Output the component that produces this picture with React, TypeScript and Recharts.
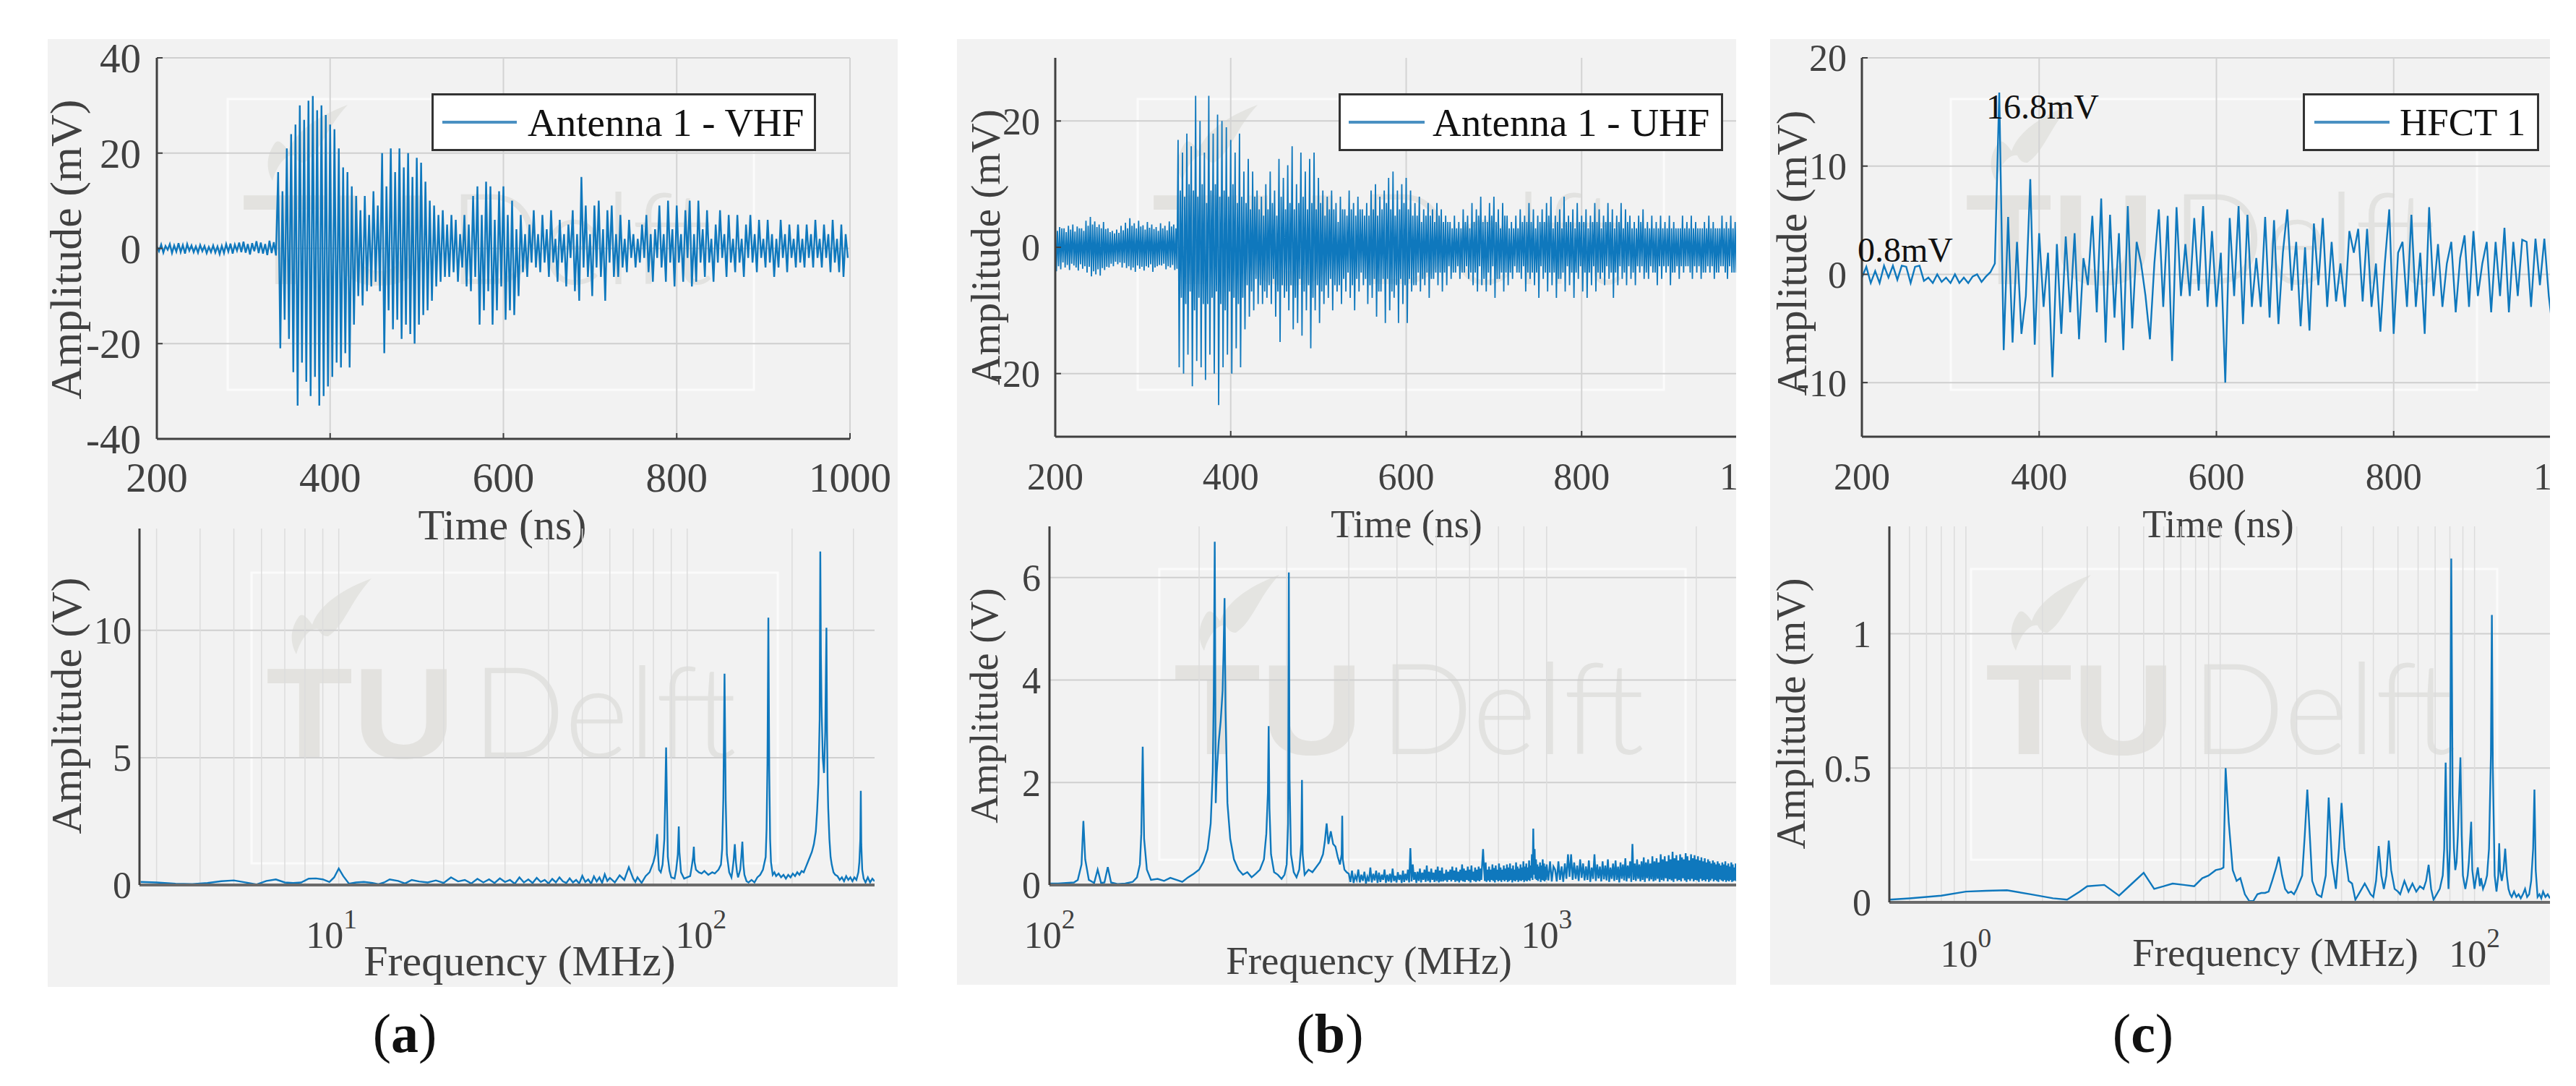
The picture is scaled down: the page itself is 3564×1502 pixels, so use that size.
import React from 'react';
import { LineChart, Line, XAxis, YAxis, CartesianGrid, Legend } from 'recharts';

const SERIF = '"Liberation Serif", "Times New Roman", serif';
const BLUE = '#0f78bd';
const INK = '#404040';

/* ---------- time-domain samples, mV ---------- */
const sampleStepA = 2.5;
const ampTimeA = [
  0.4,-0.6,0.8,-0.9,0.5,-0.3,0.9,-1.0,0.6,-0.7,1.1,-0.8,0.7,-1.1,0.9,-0.5,
  0.6,-0.8,0.4,-0.9,0.7,-0.6,0.5,-1.0,0.3,-0.8,0.6,-0.9,0.4,-1.2,0.5,-1.0,
  0.9,-0.7,1.0,-1.1,0.8,-0.5,1.2,-0.8,1.4,-0.9,0.9,-1.3,1.1,-0.6,1.5,-1.0,
  1.2,-1.1,0.9,-1.4,1.6,-1.0,1.3,-1.5,
  16,-21,12,-15,21,-19,24,-26,26,-33,30,-24,27,-28,31,-31,32,-27,29,-33,
  30,-31,28,-29,26,-27,25,-24,21,-25,17,-22,16,-25,13,-16,11,-10,8,-12,
  11,-9,7,-8,12,-7,9,-9,20,-22,13,-13,21,-17,16,-15,21,-19,17,-16,
  20,-18,15,-20,19,-16,18,-14,14,-13,10,-11,9,-8,7,-7,8,-6,5,-6,
  7,-5,6,-7,3,-4,7,-8,5,-9,11,-6,13,-16,7,-13,14,-9,13,-16,
  6,-13,12,-8,13,-15,7,-13,10,-14,4,-10,7,-5,3,-6,5,-3,8,-4,
  3,-5,7,-3,4,-6,8,-3,2,-7,6,-3,3,-8,5,-2,8,-9,3,-11,
  15,-4,9,-6,3,-10,9,-4,10,-6,4,-11,8,-3,9,-6,3,-6,7,-4,
  2,-5,6,-2,3,-4,2,-3,5,-2,7,-5,3,-7,4,-2,9,-4,3,-7,
  10,-3,4,-8,9,-3,3,-7,8,-2,10,-8,3,-7,10,-3,4,-6,8,-3,
  2,-7,5,-3,8,-2,3,-6,7,-3,2,-5,7,-3,2,-6,5,-2,7,-3,
  3,-5,6,-2,2,-4,6,-3,3,-6,2,-4,6,-2,3,-5,5,-2,2,-4,
  5,-3,2,-4,5,-2,3,-4,6,-2,2,-4,5,-2,3,-5,6,-3,2,-5,5,-6,3,-2,
];

const sampleStepB = 1.25;
const ampTimeB = [
  3.5,-3.8,2.6,-3,3.2,-3.5,3,-2.4,3,-3.2,2.4,-2.8,3.4,-3.6,2.8,-2.6,
  3.6,-2.9,2.5,-3.2,3.3,-3.7,3,-2.7,3,-3.4,2.6,-3,4.2,-4,3.4,-3.1,
  4.8,-4.6,3.6,-3.8,4.1,-4.3,3.2,-3.5,3.6,-4.5,3,-3.3,4,-3.6,2.9,-3.1,
  3,-3.2,2.4,-2.6,2.6,-3,2.2,-2.3,2.8,-2.7,2.3,-2.4,3.4,-3.2,2.7,-2.5,
  3.9,-3.3,3,-3,4.6,-3.6,3.4,-3.2,3.8,-3.9,3,-2.9,4.2,-3.4,3.3,-3.1,
  3.5,-3.7,2.8,-3,4,-3.2,3.1,-2.7,3.6,-3.9,2.9,-3.2,3.2,-3,2.6,-2.8,
  3.8,-2.9,3,-2.6,3.4,-3.5,2.7,-3,4.1,-3.2,3.3,-2.8,3.6,-3.6,3,-3.4,
  17,-19,9,-8,15,-20,8,-9,18,-17,10,-7,16,-22,9,-10,24,-18,8,-8,
  20,-19,10,-9,15,-21,7,-9,24,-17,9,-8,18,-20,10,-7,21,-25,8,-9,
  20,-19,9,-10,19,-17,8,-7,17,-20,10,-8,15,-16,7,-9,18,-19,8,-8,
  12,-13,7,-6,14,-11,6,-7,12,-10,8,-5,9,-9,6,-6,8,-9,5,-7,
  10,-8,6,-6,12,-9,7,-5,9,-11,5,-7,14,-15,8,-6,11,-8,6,-7,
  13,-10,7,-6,16,-13,6,-8,10,-12,7,-5,15,-14,8,-7,12,-10,6,-6,
  14,-16,7,-8,15,-10,6,-6,11,-12,7,-7,9,-9,5,-6,8,-8,6,-5,
  9,-10,6,-6,7,-7,4,-6,8,-9,6,-5,6,-7,5,-4,9,-8,6,-6,
  7,-10,5,-5,8,-7,6,-4,6,-6,5,-5,7,-9,5,-6,9,-8,6,-5,
  10,-11,5,-7,8,-7,6,-5,9,-12,7,-5,11,-10,6,-7,12,-8,5,-6,
  9,-12,6,-5,10,-9,7,-6,11,-12,6,-5,9,-7,5,-6,7,-6,5,-4,
  8,-7,4,-5,6,-6,5,-4,7,-8,5,-5,6,-5,4,-4,7,-6,5,-4,
  6,-7,4,-4,5,-6,4,-3,4,-5,3,-4,5,-4,3,-3,4,-5,3,-4,
  6,-4,4,-3,5,-5,3,-4,7,-6,4,-4,6,-7,5,-3,8,-6,4,-5,
  5,-7,4,-4,7,-6,5,-3,8,-8,4,-5,6,-5,3,-4,7,-7,5,-4,
  5,-6,3,-4,4,-5,3,-3,5,-4,3,-4,6,-5,4,-3,5,-7,4,-4,
  7,-5,4,-4,6,-6,3,-4,5,-8,4,-3,6,-5,4,-4,7,-7,5,-4,
  8,-6,3,-4,5,-8,4,-5,6,-5,3,-4,8,-7,4,-3,5,-6,4,-4,
  6,-8,3,-4,7,-5,4,-3,5,-7,4,-4,6,-8,3,-4,5,-6,4,-3,
  7,-7,4,-4,6,-5,3,-4,5,-6,4,-3,7,-5,4,-4,6,-8,3,-4,
  5,-6,4,-3,7,-5,3,-4,6,-6,4,-3,5,-5,3,-4,4,-6,3,-3,
  5,-4,4,-3,6,-5,3,-4,4,-5,3,-3,5,-4,3,-4,4,-6,3,-3,
  5,-5,3,-3,4,-4,3,-3,5,-6,3,-4,4,-4,3,-3,3,-5,3,-3,
  5,-4,3,-3,4,-3,3,-4,5,-5,3,-3,4,-4,3,-3,3,-5,3,-4,
  4,-4,3,-3,5,-4,3,-3,4,-5,3,-4,3,-4,3,-3,5,-3,3,-4,
  4,-5,3,-3,5,-4,3,-4,4,-4,3,-3,5,-5,3,-4,
];

const sampleStepC = 5;
const ampTimeC = [
  -.3,.7,-.8,.3,-.8,.8,-.3,.8,-.5,.8,.7,-.8,.7,.8,-.6,-.3,-.8,0,-.7,-.3,
  -.8,0,-.8,-.3,-.8,-.2,0,-.7,-.2,.2,1,
  16.8,-7,5.3,-6.3,3,-5.5,-2,8.8,-6.5,3.8,-3,2,-9.5,2.8,-5.5,3.5,-3.5,3.8,-6,1.5,
  -1,5.4,-3.5,7,-6.3,5.5,-4,3.8,-7,6.3,-5,3,1,-2,-6,1,6,-3,5.4,-8,
  6.2,-2,2.8,-2,5.2,-1.5,6.3,-3,4,-3,2,-10,5.2,-2,6.3,-4.6,5.5,-3,1.5,-3,
  5.3,-4,5,-4.6,2,6,-1.5,3,-4.8,2.5,-5.2,4.7,-1,5.2,-3,3,-2.5,1,-3,4,
  2,4.2,-2.5,4.2,-3,1,-5.3,1,6,-5.5,2,3,-3,5.5,-3,2,-5.5,6.2,-2,2.8,
  -3,1,3,-3.5,1.5,3.6,-3,4,-2,1,3,-3.5,3,-2,4.3,-3.5,3,-2,3.2,3,
  -3,3.3,-1,3.3,-2,-5.5,
];

/* ---------- spectra ---------- */
const freqSpecA = [
  2.7,3,3.4,3.8,4.2,4.6,5,5.5,5.8,6.2,
  6.6,7,7.4,7.8,8.2,8.6,9,9.4,9.7,10,
  10.3,10.7,11.2,11.8,12.5,13,13.5,14,14.8,15.5,
  16.2,17,18,19,20,21,22,23,24,25,
  26,27,28,29,30,31,32,33,34,35,
  36,37,38,39,40,41,42,43,44,45,
  46,47,48,49,50,51,52,53,54,55,
  56,57,58,59,60,62,64,66,68,70,
  71,72,74,76,78,80,81,82,82.5,83,
  84,85,86,86.5,87,87.5,88,89,90,92,
  93,94,94.6,95,96,98,100,102,103,104,
  104.5,105,106,108,110,112,115,118,120,123,
  125,126,127,128,129,130,132,134,135,136,
  137,138,139,140,142,143,144,145,146,148,
  150,153,156,159,162,165,168,169,170,171,
  172,173,174,176,178,180,183,186,189,192,
  195,198,201,204,207,210,213,216,219,222,
  225,228,231,234,236,238,240,241,242,243,
  245,247,249,250,251,252,253,254,256,258,
  260,263,266,270,274,278,282,286,290,294,
  298,302,306,310,312,314,315,316,318,321,
  325,330,335,340,345,
];
const ampSpecA = [
  .12,.1,.05,.04,.08,.15,.18,.08,.02,.16,
  .22,.1,.08,.1,.25,.26,.22,.12,.3,.65,
  .35,.05,.1,.12,.08,.03,.1,.22,.16,.06,
  .2,.14,.1,.18,.08,.3,.14,.2,.06,.24,
  .1,.22,.08,.26,.12,.2,.05,.3,.1,.22,
  .08,.28,.12,.2,.06,.24,.1,.3,.14,.08,
  .26,.1,.2,.06,.36,.12,.22,.05,.34,.14,
  .3,.08,.42,.16,.28,.1,.38,.2,.7,.25,
  .12,.3,.08,.35,.5,.9,1.2,2,1.2,.6,
  .5,.8,1.8,3.4,5.4,3.2,1.1,.55,.3,.25,
  .6,1.2,2.3,1.3,.5,.25,.3,.35,.7,1.1,
  1.5,.9,.6,.5,.45,.55,.4,.5,.45,.6,
  .8,1.4,3.4,8.3,3.3,1.2,.5,.3,.6,1,
  1.6,.9,.5,.3,.6,1.1,1.7,.8,.4,.15,
  .1,.2,.1,.3,.4,.6,1.1,2.2,4.8,10.5,
  4.5,1.8,.9,.4,.5,.35,.45,.3,.4,.25,
  .4,.3,.45,.35,.5,.4,.55,.5,.7,.9,
  1.1,1.3,1.6,2.1,2.9,4,6.5,13.1,9,7,
  5,4.4,6,8,10.1,6,4,3,1.8,1.1,
  .8,.5,.4,.35,.2,.3,.15,.35,.2,.3,
  .15,.3,.2,.5,.9,1.8,3.7,1.6,.6,.25,
  .1,.3,.1,.25,.15,
];

const freqSpecB = [
  100,104,108,112,114,116,117,118,120,123,
  125,127,129,131,133,137,142,147,150,152,
  153,154,155,157,160,165,170,175,180,185,
  190,195,200,204,208,211,213,214,215,216,
  217,219,221,223,224,225,226,228,231,235,
  240,245,250,255,260,265,270,273,275,276,
  277,279,283,288,293,297,300,302,303,304,
  306,310,314,318,321,322,323,326,332,338,
  344,350,355,358,361,364,368,372,376,380,
  384,387,388,389,392,396,
];
const ampSpecB = [
  .03,.03,.04,.05,.1,.4,1.25,.5,.1,.04,
  .3,.04,.05,.35,.05,.02,.03,.06,.15,.4,
  1,2.7,.9,.3,.1,.12,.08,.14,.1,.06,
  .15,.22,.3,.45,.7,1.2,2.2,3.7,6.7,1.6,
  2.2,2.8,3.2,3.8,4.6,5.6,3.4,1.6,.9,.5,
  .3,.2,.25,.15,.22,.3,.5,1,1.8,3.1,
  1.5,.6,.25,.2,.12,.2,.4,1.2,6.1,2.1,
  .6,.25,.15,.3,.8,2.05,.6,.2,.3,.25,
  .35,.45,.6,.85,1.2,.8,1.05,.8,.75,.55,
  .4,.6,1.35,.5,.3,.25,
];
const noiseLowStartB = 400;
const noiseLowStepB = 3;
const ampNoiseLowB = [
  .22,.06,.28,.04,.18,.1,.3,.05,.2,.08,.26,.03,.16,.07,.34,.05,.22,.09,.28,.04,
  .24,.06,.2,.1,.3,.04,.2,.07,.22,.05,.32,.08,.18,.05,.25,.1,.2,.04,.28,.06,
  .22,.09,.3,.05,.72,.07,.4,.1,.25,.04,.26,.08,.32,.05,.24,.1,.3,.06,.38,.08,
  .26,.05,.32,.1,.24,.06,.3,.08,.36,.05,.28,.07,.34,.07,.22,.09,.3,.06,.26,.1,
  .3,.07,.36,.1,.28,.06,.34,.08,.26,.05,.3,.09,.4,.07,.32,.06,.28,.1,.36,.08,
  .3,.05,.38,.1,.26,.08,.34,.06,.3,.09,.36,.07,.32,.1,.42,.7,.36,.08,.44,.06,
  .3,.09,.36,.06,.3,.1,.4,.08,.33,.05,.38,.1,.3,.07,.42,.09,.34,.06,.3,.1,
  .38,.07,.32,.1,.4,.06,.34,.08,.42,.1,.32,.05,.38,.09,.3,.07,.44,.1,.36,.06,
  .32,.09,.4,.08,.34,.1,.46,.06,.36,.09,.42,.07,.34,.1,.48,.08,.38,.14,.6,.1,
  1.1,.2,.7,.12,.5,.1,.4,.08,.36,.12,.44,.06,.38,.1,.5,.09,.42,.07,.36,.1,
];
const noiseHighStartB = 1000;
const noiseHighStepB = 8;
const ampNoiseHighB = [
  .4,.09,.46,.07,.36,
  .3,.07,.46,.1,.36,.06,.42,.12,.6,.16,.6,.1,.44,.12,.38,.08,.5,.14,.42,.09,
  .36,.1,.48,.06,.34,.12,.6,.08,.4,.13,.36,.07,.46,.11,.38,.09,.5,.06,.34,.12,
  .42,.08,.48,.1,.36,.05,.44,.12,.4,.09,.52,.07,.38,.13,.46,.06,.8,.1,.42,.08,
  .5,.12,.4,.07,.46,.1,.54,.06,.44,.13,.5,.08,.42,.11,.56,.07,.46,.09,.52,.12,
  .44,.06,.6,.1,.5,.08,.56,.13,.46,.07,.58,.11,.5,.09,.65,.06,.52,.12,.58,.08,
  .48,.1,.6,.07,.54,.13,.5,.09,.62,.06,.56,.11,.48,.08,.6,.12,.52,.07,.58,.1,
  .5,.09,.56,.06,.48,.12,.54,.08,.46,.1,.52,.07,.44,.11,.5,.06,.46,.09,.42,.12,
  .48,.07,.44,.1,.4,.08,.46,.06,.42,.11,.38,.09,.44,.07,.4,.1,.46,.06,.38,.09,
  .42,.07,.36,.1,.44,.06,.4,.08,.34,.09,.42,.07,.38,.1,.36,.06,.4,.08,.34,.07,
];

const freqSpecC = [
  .5,.6,.7,.8,1,1.2,1.45,1.8,2.2,2.5,
  2.8,3,3.5,4,4.5,5,5.5,6,6.5,7.2,
  7.9,8.5,9,9.6,10.1,10.3,10.5,10.8,11.2,11.6,
  12,12.5,13,13.5,14,14.5,15,15.5,16,16.6,
  17,17.5,18,18.5,19,19.5,20,21,21.5,22,
  22.5,23,24,25,26,26.7,27.5,28.5,29.3,30,
  30.8,32,33,34,35,36,37,38,39,40,
  41,42,43,44,45,46,47,48.5,50,51,
  53,55,57,59,61,63,64.5,66,67.5,69,
  71,73,75,76,77,78,79,80,81,82,
  83,84,85,86,87,88,89,90,92,94,
  95,97,98,100,101,103,105,106,108,110,
  112,114,116,117,118,120,122,124,125,126,
  128,130,132,134,136,138,140,143,146,149,
  152,155,158,161,164,167,170,172,174,177,
  180,183,186,190,194,198,
];
const ampSpecC = [
  .01,.015,.02,.025,.04,.043,.045,.03,.015,.01,
  .04,.06,.065,.025,.07,.11,.05,.06,.07,.065,
  .06,.09,.1,.12,.125,.13,.5,.3,.12,.08,
  .09,.03,.005,.005,.03,.035,.035,.04,.08,.13,
  .17,.1,.05,.035,.04,.03,.05,.1,.25,.42,
  .25,.08,.03,.02,.1,.39,.15,.05,.2,.37,
  .2,.08,.07,.01,.03,.05,.07,.05,.03,.02,
  .08,.21,.1,.05,.1,.23,.12,.05,.04,.03,
  .08,.04,.07,.04,.06,.05,.08,.14,.05,.01,
  .03,.05,.1,.2,.52,.2,.05,.2,1.28,.4,
  .2,.12,.15,.25,.4,.54,.25,.1,.05,.1,
  .15,.3,.12,.05,.08,.13,.06,.09,.05,.07,
  .1,.2,.55,1.07,.5,.1,.04,.1,.22,.12,
  .08,.12,.2,.1,.05,.03,.02,.04,.02,.03,
  .015,.03,.05,.02,.03,.08,.2,.42,.12,.02,
  .03,.015,.04,.02,.03,.015,
];

/* ---------- tick labels ---------- */
const timeTicks = [200, 400, 600, 800, 1000];
const ticksAmpA = [-40, -20, 0, 20, 40];
const ticksAmpB = [-20, 0, 20];
const ticksAmpC = [-10, 0, 10, 20];
const ticksSpecA = [0, 5, 10];
const ticksSpecB = [0, 2, 4, 6];
const ticksSpecC = [0, 0.5, 1];
const logTicksA = [3, 4, 5, 6, 7, 8, 9, 10, 20, 30, 40, 50, 60, 70, 80, 90, 100, 200, 300];
const logTicksB = [100, 200, 300, 400, 500, 600, 700, 800, 900, 1000, 2000];
const logTicksC = [0.6, 0.7, 0.8, 0.9, 1, 2, 3, 4, 5, 6, 7, 8, 9, 10, 20, 30, 40, 50, 60, 70, 80, 90, 100, 200];

const rows = (xs: number[], ys: number[]) => xs.map((x, i) => ({ x, y: ys[i] }));
const sampled = (start: number, step: number, ys: number[]) => ys.map((y, i) => ({ x: start + i * step, y }));

const dataTimeA = sampled(200, sampleStepA, ampTimeA);
const dataTimeB = sampled(200, sampleStepB, ampTimeB);
const dataTimeC = sampled(200, sampleStepC, ampTimeC);
const dataSpecA = rows(freqSpecA, ampSpecA);
const dataSpecB = [
  ...rows(freqSpecB, ampSpecB),
  ...sampled(noiseLowStartB, noiseLowStepB, ampNoiseLowB),
  ...sampled(noiseHighStartB, noiseHighStepB, ampNoiseHighB),
];
const dataSpecC = rows(freqSpecC, ampSpecC);

/* ---------- page layout ---------- */
const panels = [
  { x: 66, w: 1176, bottom: 1365 },
  { x: 1324, w: 1078, bottom: 1362 },
  { x: 2449, w: 1079, bottom: 1362 },
];
const marks = [
  [315, 137], [348, 792], [1574, 137], [1604, 787], [2699, 137], [2727, 787],
];

function Watermark({ x, y }: { x: number; y: number }) {
  return (
    <g transform={`translate(${x} ${y})`}>
      <rect x={0} y={0} width={728} height={402} fill="none" stroke="#fbfbfb" strokeWidth={3} />
      <path d="M166 8C120 25 92 48 84 72C76 60 70 56 66 60C54 76 52 96 62 113C68 92 80 76 92 78C96 86 100 88 106 88C130 72 136 40 166 8Z" fill="#e4e4e1" />
      <text x={20} y={256} fontFamily='"Liberation Sans"' fontWeight="bold" fontSize={178} fill="#e3e2df" textLength={262} lengthAdjust="spacingAndGlyphs">TU</text>
      <text x={305} y={256} fontFamily='Lato, "Liberation Sans"' fontWeight={300} fontSize={175} fill="#e2e2e0" textLength={366} lengthAdjust="spacingAndGlyphs">Delft</text>
    </g>
  );
}

function Caption({ x, letter }: { x: number; letter: string }) {
  return (
    <text x={x} y={1455} textAnchor="middle" fontFamily={SERIF} fontSize={76} fill="#111">
      (<tspan fontWeight="bold">{letter}</tspan>)
    </text>
  );
}

type SubProps = {
  panel: { x: number; w: number; bottom: number };
  top: number;
  bottom: number;
  plot: [number, number, number, number];
  data: { x: number; y: number }[];
  domainX: [number, number];
  domainY: [number, number];
  ticksX: number[];
  ticksY: number[];
  log?: boolean;
  logLabels?: Record<number, number>;
  logSup?: Record<number, string>;
  logBaseline?: number;
  tickFont: number;
  xBaseline: number;
  yGap: number;
  xTitle: string;
  xTitleAt: [number, number, number];
  yTitle: string;
  yTitleAt: [number, number, number];
  name: string;
  legend?: { x: number; w: number; pad: number; sample: number; gap: number; font: number };
  width?: number;
  clip?: boolean;
};

function SubChart(p: SubProps) {
  const [x0, x1, y0, y1] = p.plot;
  const yw = 90;
  const xh = 50;
  const inward = p.log ? 0 : 8;
  const height = p.bottom - p.top;
  const left = x0 - p.panel.x - yw;
  const top = y0 - p.top;
  const right = 70;
  const width = x1 - p.panel.x + right;
  const bottom = height - (y1 - p.top) - xh;
  const xMargin = p.xBaseline - 0.71 * p.tickFont - (y1 - inward);

  const logTick = (t: any) => {
    const v = t.payload.value;
    const sup = p.logSup?.[v];
    if (!sup) return <g />;
    const dx = p.logLabels?.[v] ?? 0;
    const by = (p.logBaseline ?? 0) - p.top;
    return (
      <text x={t.x + dx} y={by} textAnchor="middle" fontFamily={SERIF} fontSize={p.tickFont} fill={INK}>
        10<tspan dy={-27} fontSize={p.tickFont * 0.72}>{sup}</tspan>
      </text>
    );
  };

  const XTitle = () => (
    <text x={p.xTitleAt[0] - p.panel.x} y={p.xTitleAt[1] - p.top} textAnchor="middle" fontFamily={SERIF} fontSize={p.xTitleAt[2]} fill={INK}>{p.xTitle}</text>
  );
  const YTitle = () => {
    const tx = p.yTitleAt[0] - p.panel.x;
    const ty = p.yTitleAt[1] - p.top;
    return (
      <text x={tx} y={ty} transform={`rotate(-90 ${tx} ${ty})`} textAnchor="middle" fontFamily={SERIF} fontSize={p.yTitleAt[2]} fill={INK}>{p.yTitle}</text>
    );
  };

  const leg = p.legend;
  return (
    <div style={{ position: 'absolute', left: p.panel.x, top: p.top, width: p.panel.w, height, overflow: p.clip ? 'hidden' : 'visible' }}>
      <LineChart width={width} height={height} data={p.data} margin={{ left, top, right, bottom }}>
        <CartesianGrid syncWithTicks vertical={false} stroke="#cfcfcf" strokeWidth={2} />
        <CartesianGrid syncWithTicks horizontal={false} stroke={p.log ? '#dcdcdc' : '#d3d3d3'} strokeWidth={p.log ? 1.5 : 2} />
        <XAxis
          dataKey="x"
          type="number"
          scale={p.log ? 'log' : 'linear'}
          domain={p.domainX}
          ticks={p.ticksX}
          interval={0}
          allowDataOverflow
          height={xh}
          axisLine={{ stroke: p.log ? '#6a6a6a' : INK, strokeWidth: p.log ? 4 : 3 }}
          tickLine={p.log ? false : { stroke: INK, strokeWidth: 2 }}
          tickSize={p.log ? 0 : -inward}
          tickMargin={xMargin}
          tick={p.log ? logTick : { fill: INK, fontSize: p.tickFont, fontFamily: SERIF }}
          label={{ value: p.xTitle, content: XTitle }}
        />
        <YAxis
          type="number"
          domain={p.domainY}
          ticks={p.ticksY}
          interval={0}
          allowDataOverflow
          width={yw}
          axisLine={{ stroke: INK, strokeWidth: 3 }}
          tickLine={p.log ? false : { stroke: INK, strokeWidth: 2 }}
          tickSize={p.log ? 0 : -inward}
          tickMargin={p.yGap + inward}
          tick={{ fill: INK, fontSize: p.tickFont, fontFamily: SERIF }}
          label={{ value: p.yTitle, content: YTitle }}
        />
        <Line
          dataKey="y"
          name={p.name}
          stroke={BLUE}
          strokeWidth={p.width ?? 2.4}
          dot={false}
          isAnimationActive={false}
        />
        {leg && (
          <Legend
            layout="vertical"
            align="center"
            verticalAlign="middle"
            wrapperStyle={{ left: leg.x - p.panel.x, top: 129 - p.top, width: leg.w, height: 80 }}
            content={(c: any) => (
              <div style={{ boxSizing: 'border-box', width: leg.w, height: 80, background: '#fff', border: '3px solid #333', display: 'flex', alignItems: 'center', paddingLeft: leg.pad, fontFamily: SERIF, fontSize: leg.font, color: '#111', whiteSpace: 'nowrap' }}>
                <span style={{ display: 'inline-block', width: leg.sample, height: 4, background: '#4a90c2', marginRight: leg.gap }} />
                {c.payload?.[0]?.value}
              </div>
            )}
          />
        )}
      </LineChart>
    </div>
  );
}

export default function App() {
  const [pa, pb, pc] = panels;
  return (
    <div style={{ position: 'absolute', left: 0, top: 0, width: 3564, height: 1502, background: '#fff', overflow: 'hidden' }}>
      <svg width={3564} height={1502} style={{ position: 'absolute', left: 0, top: 0 }}>
        {panels.map((q, i) => (
          <rect key={i} x={q.x} y={54} width={q.w} height={q.bottom - 54} fill="#f2f2f2" />
        ))}
        {marks.map((m, i) => <Watermark key={i} x={m[0]} y={m[1]} />)}
        <Caption x={560} letter="a" />
        <Caption x={1840} letter="b" />
        <Caption x={2965} letter="c" />
      </svg>

      <SubChart panel={pa} top={54} bottom={764} plot={[217, 1176, 80, 607]} data={dataTimeA}
        domainX={[200, 1000]} domainY={[-40, 40]} ticksX={timeTicks} ticksY={ticksAmpA}
        tickFont={57} xBaseline={680} yGap={22} xTitle="Time (ns)" xTitleAt={[695, 746, 60]}
        yTitle="Amplitude (mV)" yTitleAt={[112, 345, 62]} name="Antenna 1 - VHF"
        legend={{ x: 597, w: 532, pad: 12, sample: 103, gap: 15, font: 55 }} />
      <SubChart panel={pa} top={700} bottom={1365} plot={[193, 1210, 731, 1224]} data={dataSpecA}
        domainX={[2.68, 345]} domainY={[0, 14]} ticksX={logTicksA} ticksY={ticksSpecA} log
        logSup={{ 10: '1', 100: '2' }} logLabels={{ 10: -10, 100: 19 }} logBaseline={1311}
        tickFont={52} xBaseline={1311} yGap={11} xTitle="Frequency (MHz)" xTitleAt={[719, 1349, 60]}
        yTitle="Amplitude (V)" yTitleAt={[112, 976, 60]} name="Antenna 1 - VHF spectrum" />

      <SubChart panel={pb} clip top={54} bottom={764} plot={[1460, 2431, 80, 604]} data={dataTimeB}
        domainX={[200, 1000]} domainY={[-30, 30]} ticksX={timeTicks} ticksY={ticksAmpB}
        tickFont={52} xBaseline={677} yGap={21} xTitle="Time (ns)" xTitleAt={[1946, 743, 54]}
        yTitle="Amplitude (mV)" yTitleAt={[1383, 342, 57]} name="Antenna 1 - UHF" width={1.8}
        legend={{ x: 1852, w: 532, pad: 11, sample: 105, gap: 11, font: 55 }} />
      <SubChart panel={pb} clip top={700} bottom={1362} plot={[1452, 2468, 728, 1224]} data={dataSpecB}
        domainX={[100, 3000]} domainY={[0, 7]} ticksX={logTicksB} ticksY={ticksSpecB} log
        logSup={{ 100: '2', 1000: '3' }} logBaseline={1311}
        tickFont={52} xBaseline={1311} yGap={12} xTitle="Frequency (MHz)" xTitleAt={[1894, 1347, 55]}
        yTitle="Amplitude (V)" yTitleAt={[1380, 976, 55]} name="Antenna 1 - UHF spectrum" />

      <SubChart panel={pc} clip top={54} bottom={764} plot={[2576, 3557, 80, 604]} data={dataTimeC}
        domainX={[200, 1000]} domainY={[-15, 20]} ticksX={timeTicks} ticksY={ticksAmpC}
        tickFont={52} xBaseline={677} yGap={21} xTitle="Time (ns)" xTitleAt={[3069, 743, 54]}
        yTitle="Amplitude (mV)" yTitleAt={[2499, 350, 59]} name="HFCT 1"
        legend={{ x: 3186, w: 327, pad: 13, sample: 104, gap: 14, font: 53 }} />
      <SubChart panel={pc} clip top={700} bottom={1362} plot={[2614, 3528, 728, 1248]} data={dataSpecC}
        domainX={[0.5, 198]} domainY={[0, 1.4]} ticksX={logTicksC} ticksY={ticksSpecC} log
        logSup={{ 1: '0', 100: '2' }} logBaseline={1337}
        tickFont={52} xBaseline={1337} yGap={25} xTitle="Frequency (MHz)" xTitleAt={[3148, 1336, 55]}
        yTitle="Amplitude (mV)" yTitleAt={[2497, 987, 56]} name="HFCT 1 spectrum" />

      <div style={{ position: 'absolute', left: 2748, top: 120, fontFamily: SERIF, fontSize: 48, color: '#111', lineHeight: '56px' }}>16.8mV</div>
      <div style={{ position: 'absolute', left: 2570, top: 318, fontFamily: SERIF, fontSize: 48, color: '#111', lineHeight: '56px' }}>0.8mV</div>
    </div>
  );
}
